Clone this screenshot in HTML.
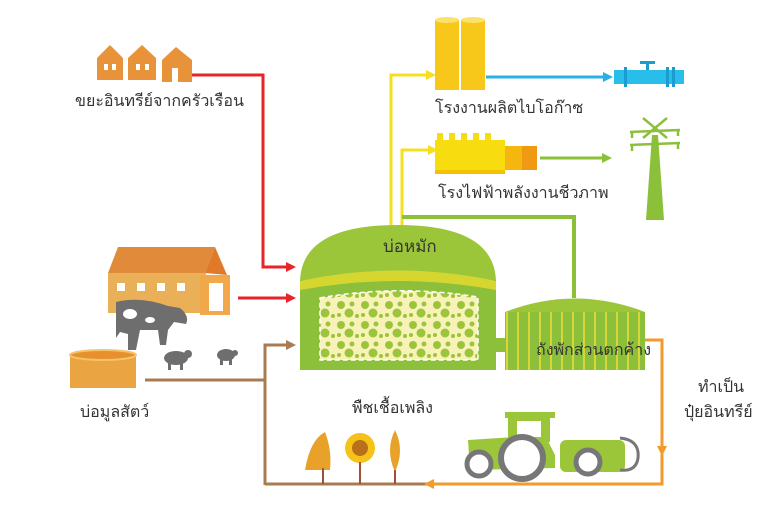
<!DOCTYPE html>
<html><head><meta charset="utf-8"><style>
html,body{margin:0;padding:0;background:#fff;width:768px;height:512px;overflow:hidden}
text{font-family:"Liberation Sans","DejaVu Sans",sans-serif;font-size:16px;fill:#333}
</style></head><body>
<svg width="768" height="512" viewBox="0 0 768 512" xmlns="http://www.w3.org/2000/svg">
<defs>
<pattern id="dots" width="24" height="20" patternUnits="userSpaceOnUse">
<rect width="24" height="20" fill="#f8f2b8"/>
<circle cx="5" cy="5" r="4" fill="#9bc63c"/><circle cx="16" cy="4" r="2.5" fill="#9bc63c"/>
<circle cx="13" cy="13" r="4.5" fill="#9bc63c"/><circle cx="3" cy="15" r="2" fill="#9bc63c"/><circle cx="21" cy="16" r="2" fill="#9bc63c"/>
</pattern>
<pattern id="stripes" width="11" height="10" patternUnits="userSpaceOnUse">
<rect width="11" height="10" fill="#8cc03a"/><rect x="0" width="2" height="10" fill="#d9d63a"/>
</pattern>
</defs>

<!-- houses -->
<g fill="#e8933a">
<polygon points="97,58 110,45 123,58 123,80 97,80"/>
<polygon points="128,58 142,45 156,58 156,80 128,80"/>
<polygon points="162,60 176,47 192,60 192,82 162,82"/>
</g>
<g fill="#fff"><rect x="104" y="64" width="4" height="6"/><rect x="112" y="64" width="4" height="6"/><rect x="136" y="64" width="4" height="6"/><rect x="145" y="64" width="4" height="6"/><rect x="172" y="68" width="6" height="14"/></g>
<text x="75" y="106">ขยะอินทรีย์จากครัวเรือน</text>

<!-- red lines -->
<g stroke="#e8232a" stroke-width="3" fill="none"><polyline points="192,75 263,75 263,267 288,267"/><line x1="238" y1="298" x2="288" y2="298"/></g>
<g fill="#e8232a"><polygon points="296,267 286,262 286,272"/><polygon points="296,298 286,293 286,303"/></g>

<!-- barn -->
<polygon points="108,273 118,247 215,247 205,273" fill="#e08a3a"/>
<polygon points="205,273 215,247 227,275" fill="#e07a28"/>
<rect x="108" y="273" width="98" height="40" fill="#eab057"/>
<rect x="200" y="275" width="30" height="40" fill="#f0a84a"/>
<rect x="209" y="283" width="14" height="28" fill="#fff"/>
<g fill="#fff"><rect x="117" y="283" width="8" height="8"/><rect x="137" y="283" width="8" height="8"/><rect x="157" y="283" width="8" height="8"/><rect x="177" y="283" width="8" height="8"/></g>
<!-- cow -->
<path d="M116,302 Q140,296 168,306 L180,308 Q190,316 186,324 L174,322 L168,330 L166,345 L160,345 L158,330 L140,330 L136,350 L128,350 L128,334 L120,332 L116,338 Z" fill="#6e6e6e"/>
<g fill="#fff"><ellipse cx="130" cy="314" rx="7" ry="5"/><ellipse cx="150" cy="320" rx="5" ry="3"/></g>
<!-- pigs -->
<g fill="#6e6e6e">
<ellipse cx="176" cy="358" rx="12" ry="7"/><rect x="168" y="360" width="3" height="10"/><rect x="180" y="360" width="3" height="10"/><circle cx="188" cy="354" r="4"/>
<ellipse cx="226" cy="355" rx="9" ry="6"/><rect x="220" y="357" width="3" height="8"/><rect x="229" y="357" width="3" height="8"/><circle cx="235" cy="353" r="3"/>
</g>

<!-- pond -->
<rect x="70" y="355" width="66" height="33" fill="#eaa441"/>
<ellipse cx="103" cy="355" rx="33" ry="5" fill="#e8902c" stroke="#f4c36a" stroke-width="2"/>
<text x="80" y="417">บ่อมูลสัตว์</text>

<!-- brown lines -->
<g stroke="#a97b52" stroke-width="3" fill="none"><polyline points="145,380 265,380"/><polyline points="265,485 265,345 288,345"/><line x1="265" y1="484" x2="430" y2="484"/></g>
<polygon points="296,345 286,340 286,350" fill="#a97b52"/>

<!-- orange -->
<g stroke="#f39a2a" stroke-width="3" fill="none"><polyline points="645,340 662,340 662,484 432,484"/></g>
<polygon points="662,456 657,446 667,446" fill="#f39a2a"/>
<polygon points="424,484 434,479 434,489" fill="#f39a2a"/>

<!-- yellow & green pipes -->
<g stroke="#f5e020" stroke-width="3" fill="none"><polyline points="391,225 391,75 428,75"/><polyline points="402,225 402,150 430,150"/></g>
<g fill="#f5e020"><polygon points="436,75 426,70 426,80"/><polygon points="438,150 428,145 428,155"/></g>
<polyline points="402,217 574,217 574,298" stroke="#8cc03a" stroke-width="4" fill="none"/>

<!-- gas plant -->
<rect x="435" y="20" width="24" height="70" fill="#f7c81a"/><rect x="461" y="20" width="24" height="70" fill="#f7c81a"/>
<ellipse cx="447" cy="20" rx="12" ry="3" fill="#fbe16a"/><ellipse cx="473" cy="20" rx="12" ry="3" fill="#fbe16a"/>
<line x1="486" y1="77" x2="605" y2="77" stroke="#2ab0e4" stroke-width="3"/>
<polygon points="613,77 603,72 603,82" fill="#2ab0e4"/>
<rect x="614" y="70" width="70" height="14" fill="#29bde9"/>
<rect x="624" y="67" width="3" height="20" fill="#1a9cd0"/><rect x="666" y="67" width="3" height="20" fill="#1a9cd0"/><rect x="672" y="67" width="3" height="20" fill="#1a9cd0"/>
<rect x="646" y="62" width="3" height="8" fill="#1a9cd0"/><rect x="640" y="61" width="15" height="3" fill="#1a9cd0"/>
<text x="435" y="113">โรงงานผลิตไบโอก๊าซ</text>

<!-- generator -->
<rect x="435" y="140" width="70" height="30" fill="#f7dc10"/>
<g fill="#f7dc10"><rect x="437" y="133" width="6" height="8"/><rect x="449" y="133" width="6" height="8"/><rect x="461" y="133" width="6" height="8"/><rect x="473" y="133" width="6" height="8"/><rect x="485" y="133" width="6" height="8"/></g>
<rect x="435" y="170" width="70" height="4" fill="#f2c200"/>
<rect x="505" y="146" width="30" height="24" fill="#f5b70f"/><rect x="522" y="146" width="15" height="24" fill="#f09a12"/>
<line x1="540" y1="158" x2="605" y2="158" stroke="#8cc03a" stroke-width="3"/>
<polygon points="612,158 602,153 602,163" fill="#8cc03a"/>
<text x="438" y="198">โรงไฟฟ้าพลังงานชีวภาพ</text>
<!-- pylon -->
<polygon points="652,135 658,135 664,220 646,220" fill="#8cc03a"/>
<g stroke="#8cc03a" stroke-width="2.5" fill="none"><line x1="630" y1="132" x2="680" y2="130"/><line x1="630" y1="145" x2="680" y2="143"/><line x1="643" y1="118" x2="667" y2="138"/><line x1="667" y1="118" x2="643" y2="138"/>
<line x1="632" y1="132" x2="632" y2="138"/><line x1="678" y1="130" x2="678" y2="136"/><line x1="632" y1="145" x2="632" y2="151"/><line x1="678" y1="143" x2="678" y2="149"/></g>

<!-- digester -->
<path d="M300,283 Q300,225 398,225 Q496,225 496,283 Z" fill="#9cc63a"/>
<rect x="300" y="280" width="196" height="90" fill="#8cc03a"/>
<path d="M300,281 Q398,260 496,281 L496,290 Q398,272 300,290 Z" fill="#d6d630"/>
<path d="M320,298 Q398,284 478,297 L478,360 L320,360 Z" fill="url(#dots)" stroke="#fff" stroke-width="1.5" stroke-dasharray="5,3"/>
<text x="383" y="252" style="font-size:17px">บ่อหมัก</text>
<rect x="496" y="338" width="10" height="14" fill="#8cc03a"/>
<!-- tank -->
<path d="M505,312 Q575,285 645,312 Z" fill="#9cc63a"/>
<rect x="505" y="312" width="140" height="58" fill="url(#stripes)"/>
<text x="536" y="355">ถังพักส่วนตกค้าง</text>

<!-- labels -->
<text x="698" y="392">ทำเป็น</text>
<text x="684" y="417">ปุ๋ยอินทรีย์</text>
<text x="352" y="413">พืชเชื้อเพลิง</text>

<!-- crops -->
<path d="M305,470 Q310,440 325,432 Q332,450 330,470 Z" fill="#e8a22a"/>
<rect x="322" y="468" width="2" height="16" fill="#a0503a"/>
<circle cx="360" cy="448" r="15" fill="#f5c21a"/><circle cx="360" cy="448" r="8" fill="#b8701a"/>
<rect x="359" y="462" width="2" height="22" fill="#a0503a"/>
<path d="M395,430 Q405,450 395,472 Q385,450 395,430 Z" fill="#e8a22a"/>
<rect x="394" y="470" width="2" height="14" fill="#a0503a"/>

<!-- tractor -->
<g fill="#9cc63a">
<rect x="505" y="412" width="50" height="6"/><rect x="508" y="418" width="42" height="24"/>
<path d="M468,440 L545,435 L555,455 L555,468 L470,470 Z"/>
<rect x="560" y="440" width="65" height="32" rx="6"/>
</g>
<path d="M620,438 Q640,440 638,458 Q636,472 620,470" fill="none" stroke="#777" stroke-width="3"/>
<rect x="517" y="421" width="24" height="16" fill="#fff"/>
<circle cx="522" cy="458" r="21" fill="#fff" stroke="#777" stroke-width="6"/>
<circle cx="479" cy="464" r="12" fill="#fff" stroke="#777" stroke-width="5"/>
<circle cx="588" cy="462" r="12" fill="#fff" stroke="#777" stroke-width="5"/>
</svg>
</body></html>
